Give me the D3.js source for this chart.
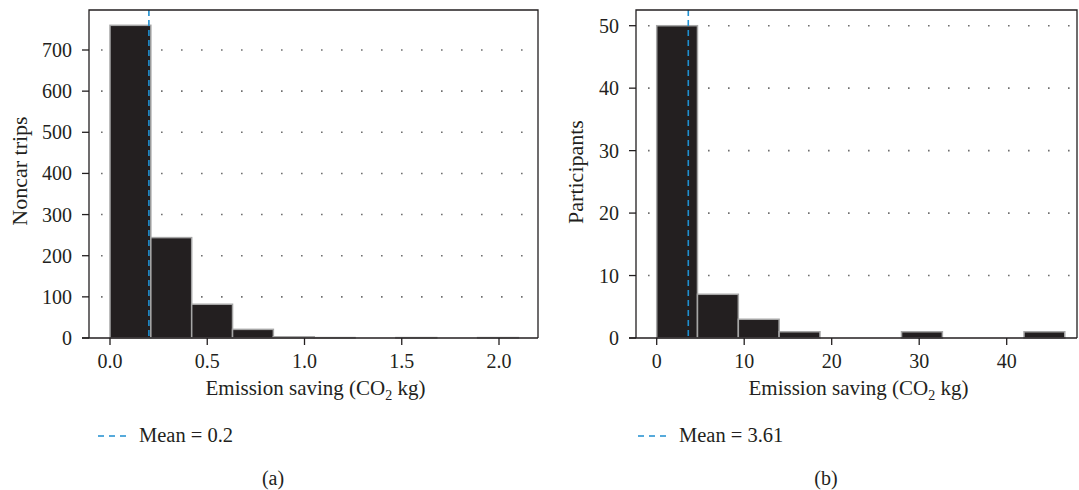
<!DOCTYPE html>
<html><head><meta charset="utf-8">
<script src="https://cdn.jsdelivr.net/npm/d3@7"></script>
<style>
body{margin:0;background:#fff}
text{font-family:"Liberation Serif","Times New Roman",serif;fill:#231f20}
</style>
</head><body>
<svg id="c" width="1079" height="490"></svg>
<script>
// ---- Data ----
const tripBinEdges = [0, 0.21, 0.42, 0.63, 0.84, 1.05, 1.26, 1.47, 1.68, 1.89, 2.10];
const tripCounts   = [760, 244, 82, 21, 3, 1, 0, 1, 0, 1];
const tripTicksX   = [0, 0.5, 1.0, 1.5, 2.0];
const tripTicksY   = [0, 100, 200, 300, 400, 500, 600, 700];
const tripMean     = 0.2;

const partBinEdges = [0, 4.66, 9.33, 13.99, 18.66, 23.32, 27.98, 32.65, 37.31, 41.98, 46.64];
const partCounts   = [50, 7, 3, 1, 0, 0, 1, 0, 0, 1];
const partTicksX   = [0, 10, 20, 30, 40];
const partTicksY   = [0, 10, 20, 30, 40, 50];
const partMean     = 3.61;

const svg = d3.select("#c");
const INK = "#231f20", BLUE = "#1f8fd0";

function panel(o) {
  const g = svg.append("g");
  const x = d3.scaleLinear().domain(o.xDom).range(o.xRange);
  const y = d3.scaleLinear().domain(o.yDom).range(o.yRange);
  const b = o.box;

  // dotted grid
  g.selectAll("line.grid").data(o.ticksY.filter(t => t > 0)).join("line")
    .attr("x1", b.left + 12).attr("x2", b.right - 2)
    .attr("y1", d => y(d)).attr("y2", d => y(d))
    .attr("stroke", "#6f6f6f").attr("stroke-width", 1.6)
    .attr("stroke-dasharray", "1.6,18.4");

  // bars
  const bins = o.counts.map((c, i) => ({x0: o.edges[i], x1: o.edges[i + 1], c})).filter(d => d.c > 0);
  g.selectAll("rect.bar").data(bins).join("rect")
    .attr("x", d => x(d.x0)).attr("width", d => x(d.x1) - x(d.x0))
    .attr("y", d => y(d.c)).attr("height", d => y(0) - y(d.c))
    .attr("fill", INK).attr("stroke", "#a6a6a6").attr("stroke-width", 1.5);

  // mean line
  g.append("line")
    .attr("x1", x(o.mean)).attr("x2", x(o.mean))
    .attr("y1", b.top).attr("y2", b.bottom)
    .attr("stroke", BLUE).attr("stroke-width", 1.6).attr("stroke-dasharray", "6,4");

  // frame
  g.append("path")
    .attr("d", `M${b.left},${b.bottom}V${b.top}H${b.right}V${b.bottom}M${b.left - 7},${b.bottom}H${b.right}`)
    .attr("fill", "none").attr("stroke", INK).attr("stroke-width", 1.3);

  // y axis ticks
  g.selectAll("line.yt").data(o.ticksY).join("line")
    .attr("x1", b.left - 7).attr("x2", b.left)
    .attr("y1", d => y(d)).attr("y2", d => y(d))
    .attr("stroke", INK).attr("stroke-width", 1.3);
  g.selectAll("text.yl").data(o.ticksY).join("text")
    .attr("x", b.left - 17).attr("y", d => y(d) + 7)
    .attr("text-anchor", "end").attr("font-size", 20)
    .text(d => d);

  // x axis ticks
  g.selectAll("line.xt").data(o.ticksX).join("line")
    .attr("x1", d => x(d)).attr("x2", d => x(d))
    .attr("y1", b.bottom).attr("y2", b.bottom + 7)
    .attr("stroke", INK).attr("stroke-width", 1.3);
  g.selectAll("text.xl").data(o.ticksX).join("text")
    .attr("x", d => x(d)).attr("y", 368)
    .attr("text-anchor", "middle").attr("font-size", 20)
    .text(d => o.fmt(d));

  // x title
  const xt = g.append("text").attr("x", (b.left + b.right) / 2 + 2).attr("y", 395)
    .attr("text-anchor", "middle").attr("font-size", 21);
  xt.append("tspan").text("Emission saving (CO");
  xt.append("tspan").attr("font-size", 14).attr("dy", 5).text("2");
  xt.append("tspan").attr("dy", -5).text(" kg)");

  // y title
  g.append("text").attr("transform", `translate(${o.yTitleX},${o.yTitleY}) rotate(-90)`)
    .attr("text-anchor", "middle").attr("font-size", 22).text(o.yTitle);

  // legend
  g.append("line").attr("x1", o.legX).attr("x2", o.legX + 28)
    .attr("y1", 436).attr("y2", 436)
    .attr("stroke", BLUE).attr("stroke-width", 1.6).attr("stroke-dasharray", "6,5");
  g.append("text").attr("x", o.legX + 41).attr("y", 442).attr("font-size", 20.5)
    .text("Mean = " + o.meanLabel);

  // caption
  g.append("text").attr("x", o.capX).attr("y", 485).attr("text-anchor", "middle")
    .attr("font-size", 20).text(o.caption);
}

panel({
  box: {left: 89, right: 538, top: 10, bottom: 338},
  xDom: [0, 2], xRange: [110, 499],
  yDom: [0, 700], yRange: [338, 50],
  edges: tripBinEdges, counts: tripCounts,
  ticksX: tripTicksX, ticksY: tripTicksY,
  fmt: d3.format(".1f"),
  mean: tripMean, meanLabel: "0.2",
  yTitle: "Noncar trips", yTitleX: 27, yTitleY: 171,
  legX: 98, capX: 273, caption: "(a)"
});

panel({
  box: {left: 636, right: 1077, top: 10, bottom: 338},
  xDom: [0, 40], xRange: [656.7, 1006.7],
  yDom: [0, 50], yRange: [338, 25.7],
  edges: partBinEdges, counts: partCounts,
  ticksX: partTicksX, ticksY: partTicksY,
  fmt: d => d,
  mean: partMean, meanLabel: "3.61",
  yTitle: "Participants", yTitleX: 583, yTitleY: 172,
  legX: 638, capX: 826, caption: "(b)"
});
</script>
</body></html>
